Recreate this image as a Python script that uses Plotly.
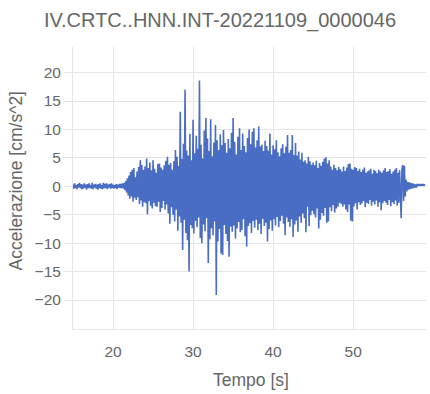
import plotly.graph_objects as go

title_text = "IV.CRTC..HNN.INT-20221109_0000046"
x_label = "Tempo [s]"
y_label = "Accelerazione [cm/s^2]"

t_start = 15.0
dt = 0.1

# acceleration samples [cm/s^2], one row per second
acc = [
    0.3, -0.4, 0.5, -0.3, 0.2, -0.5, 0.4, -0.2, 0.6, -0.3,   # 15
    0.4, -0.5, 0.3, -0.4, 0.5, -0.2, 0.3, -0.6, 0.4, -0.3,   # 16
    0.5, -0.3, 0.2, -0.4, 0.6, -0.5, 0.3, -0.2, 0.4, -0.4,   # 17
    0.3, -0.6, 0.4, -0.3, 0.5, -0.4, 0.2, -0.5, 0.6, -0.3,   # 18
    0.4, -0.3, 0.5, -0.5, 0.3, -0.2, 0.4, -0.4, 0.5, -0.3,   # 19
    0.3, -0.4, 0.2, -0.3, 0.4, -0.5, 0.3, -0.2, 0.4, -0.3,   # 20
    0.4, -0.3, 0.5, -0.4, 0.6, -0.7, 0.9, -1.1, 1.4, -1.6,   # 21
    1.9, -2.2, 2.5, -1.8, 2.9, -2.7, 3.2, -2.0, 1.6, -2.4,   # 22
    2.6, -1.9, 3.4, -3.1, 4.6, -2.5, 3.8, -3.6, 2.9, -2.8,   # 23
    3.5, -3.0, 4.9, -4.9, 3.2, -2.6, 4.2, -3.4, 2.8, -3.9,   # 24
    4.6, -2.9, 3.1, -3.5, 2.4, -3.6, 3.9, -2.7, 4.0, -4.5,   # 25
    3.3, -3.8, 2.9, -2.6, 3.7, -4.1, 4.5, -3.2, 5.2, -4.8,   # 26
    3.8, -6.6, 4.1, -3.7, 2.9, -5.0, 4.4, -6.2, 6.4, -4.1,   # 27
    5.2, -7.8, 3.6, -5.3, 13.1, -6.4, 4.8, -11.2, 7.5, -5.9, # 28
    17.0, -8.2, 6.3, -9.5, 5.4, -15.0, 9.2, -6.8, 4.6, -7.4, # 29
    11.7, -8.3, 5.8, -6.1, 8.9, -7.2, 6.6, -5.5, 18.6, -9.1, # 30
    7.3, -10.0, 4.9, -6.7, 9.8, -7.9, 12.0, -5.6, 8.4, -13.5, # 31
    6.2, -9.3, 11.8, -7.4, 5.3, -8.6, 7.7, -6.2, 10.8, -19.1, # 32
    8.1, -9.7, 6.4, -7.5, 9.1, -11.8, 7.2, -12.1, 9.9, -6.8, # 33
    7.6, -8.4, 5.9, -9.6, 8.3, -12.4, 6.7, -7.1, 9.4, -8.0,  # 34
    12.0, -6.9, 7.8, -9.2, 5.6, -7.4, 8.7, -6.3, 10.2, -8.1, # 35
    6.4, -7.7, 9.3, -5.8, 7.1, -8.8, 6.0, -10.6, 8.5, -7.0,  # 36
    10.0, -6.5, 7.4, -8.2, 9.6, -6.1, 10.2, -7.3, 6.8, -5.9, # 37
    8.1, -7.7, 10.5, -6.6, 7.0, -8.4, 7.3, -5.7, 6.2, -7.0,  # 38
    8.0, -6.4, 7.1, -9.7, 6.3, -7.5, 9.3, -6.0, 5.6, -7.8,   # 39
    7.2, -5.8, 6.5, -6.9, 8.1, -5.4, 6.0, -7.2, 5.3, -6.1,   # 40
    6.7, -5.2, 7.4, -6.6, 5.8, -8.6, 7.0, -5.5, 9.0, -6.3,   # 41
    5.9, -7.1, 6.4, -5.8, 9.0, -8.9, 5.5, -6.7, 7.6, -6.0,   # 42
    5.4, -8.0, 6.1, -5.3, 4.7, -6.4, 5.9, -4.8, 4.3, -5.6,   # 43
    4.6, -8.1, 4.0, -3.6, 5.2, -7.0, 4.4, -5.1, 3.8, -4.3,   # 44
    4.2, -4.9, 3.7, -5.5, 4.5, -3.9, 3.2, -7.4, 4.1, -5.9,   # 45
    3.6, -4.7, 4.3, -5.2, 4.9, -3.8, 5.1, -6.4, 4.0, -6.2,   # 46
    4.6, -3.7, 3.5, -4.4, 2.9, -3.3, 3.8, -4.6, 3.2, -3.9,   # 47
    2.8, -3.6, 3.4, -2.9, 3.0, -3.1, 2.6, -3.6, 3.5, -3.2,   # 48
    2.7, -4.1, 3.3, -4.5, 3.9, -3.2, 4.0, -6.0, 3.1, -6.2,   # 49
    2.9, -3.5, 3.4, -3.0, 3.2, -4.1, 2.7, -2.8, 3.1, -3.3,   # 50
    2.5, -3.0, 2.9, -2.6, 3.3, -3.7, 2.4, -2.9, 2.6, -3.1,   # 51
    2.8, -2.4, 3.1, -3.4, 2.2, -2.7, 2.9, -3.2, 2.7, -2.5,   # 52
    2.3, -3.6, 2.9, -2.8, 2.6, -4.2, 2.4, -3.0, 2.8, -2.6,   # 53
    3.2, -2.9, 2.5, -3.3, 2.7, -2.4, 3.0, -3.5, 2.2, -2.8,   # 54
    2.6, -3.1, 2.9, -2.5, 3.2, -3.4, 2.4, -2.9, 2.8, -3.6,   # 55
    -5.6, 3.1, 3.75, -2.6, 3.6, -1.8, 1.2, -0.9, 0.8, -0.6,  # 56
    0.7, -0.5, 0.6, -0.4, 0.5, -0.3, 0.4, -0.2, 0.3, -0.2,   # 57
    0.3, 0.2, 0.3, 0.2, 0.3, 0.2, 0.3, 0.2, 0.3, 0.2,        # 58
    0.2,                                                      # 59
]
time = [round(t_start + i * dt, 2) for i in range(len(acc))]

x_ticks = [20, 30, 40, 50]
y_ticks = [-20, -15, -10, -5, 0, 5, 10, 15, 20]

FONT = "Liberation Sans, Arial, Helvetica, sans-serif"
GRID = "#e5e5e5"
TXT = "#666666"

fig = go.Figure()
fig.add_trace(go.Scatter(
    x=time, y=acc, mode="lines",
    line=dict(color="#4a6dc4", width=1.6),
    hoverinfo="skip", showlegend=False,
))

fig.update_layout(
    width=430, height=394,
    margin=dict(l=73, r=4, t=47, b=65),
    paper_bgcolor="white", plot_bgcolor="white",
    font=dict(family=FONT, color=TXT),
    showlegend=False,
    annotations=[
        dict(text=title_text, xref="paper", yref="paper",
             x=0.4164, y=1.0957, xanchor="center", yanchor="middle",
             showarrow=False, font=dict(size=20, color=TXT, family=FONT)),
        dict(text=y_label, xref="paper", yref="paper",
             x=-0.163, y=0.525, xanchor="center", yanchor="middle",
             textangle=-90, showarrow=False,
             font=dict(size=17.5, color=TXT, family=FONT)),
        dict(text=x_label, xref="paper", yref="paper",
             x=0.503, y=-0.181, xanchor="center", yanchor="middle",
             showarrow=False, font=dict(size=17.5, color=TXT, family=FONT)),
    ],
)

fig.update_xaxes(
    range=[15, 59.1], tickvals=x_ticks,
    showgrid=True, gridcolor=GRID, gridwidth=1,
    zeroline=False, showline=True, linecolor=GRID, linewidth=1,
    ticks="outside", ticklen=8, tickcolor="rgba(0,0,0,0)",
    tickfont=dict(size=15.5, color=TXT, family=FONT),
)
fig.update_yaxes(
    range=[-25.1, 24.5], tickvals=y_ticks,
    showgrid=True, gridcolor=GRID, gridwidth=1,
    zeroline=False, showline=True, linecolor=GRID, linewidth=1,
    ticks="outside", ticklen=8, tickcolor=GRID,
    tickfont=dict(size=15.5, color=TXT, family=FONT),
)

fig.write_html(
    "out.html",
    config={"displayModeBar": False},
    post_script="document.body.style.margin='0';document.body.style.padding='0';",
)
